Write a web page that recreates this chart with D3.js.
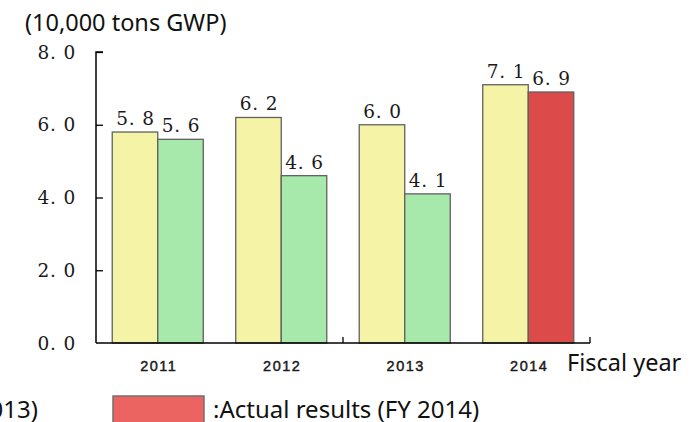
<!DOCTYPE html>
<html>
<head>
<meta charset="utf-8">
<script src="https://cdn.jsdelivr.net/npm/d3@7"></script>
<style>
  html, body { margin: 0; padding: 0; background: #fff; overflow: hidden; }
  svg { display: block; }
</style>
</head>
<body>
<svg id="chart" width="693" height="422"></svg>
<script>
// ---- data ----
const years = ["2011", "2012", "2013", "2014"];
const targetValues = [5.8, 6.2, 6.0, 7.1];
const actualValues = [5.6, 4.6, 4.1, 6.9];
const yTickValues = [0, 2, 4, 6, 8];
const unitLabel = "(10,000 tons GWP)";
const xAxisTitle = "Fiscal year";
const legendLabels = [":Actual results (FY 2011-2013)", ":Actual results (FY 2014)"];

// ---- setup ----
const svg = d3.select("#chart");
const x0 = 96, x1 = 590, yBottom = 343, yTop = 52;
const serif = "DejaVu Serif";
const sans = "Noto Sans";

const x = d3.scaleBand().domain(years).range([x0, x1]).paddingInner(0.263).paddingOuter(0.1315);
const xs = d3.scaleBand().domain(["target", "actual"]).range([0, x.bandwidth()]);
const y = d3.scaleLinear().domain([0, 8]).range([yBottom, yTop]);

const colors = { target: "#f5f3a6", actualPast: "#a6e9aa", actualNow: "#dc4a4a" };
const fmt = v => { const s = v.toFixed(1).split("."); return s[0] + ". " + s[1]; };

const rows = years.map((yr, i) => ({ yr, i, target: targetValues[i], actual: actualValues[i] }));

function numText(sel) {
  return sel.style("font-family", serif).style("font-size", "18.5px").attr("letter-spacing", 0.8)
    .attr("fill", "#1a1a1a");
}

// bars
const g = svg.append("g");
rows.forEach(r => {
  [["target", r.target, colors.target], ["actual", r.actual, r.i === years.length - 1 ? colors.actualNow : colors.actualPast]].forEach(([k, v, c]) => {
    const bx = x(r.yr) + xs(k);
    g.append("rect")
      .attr("x", bx).attr("y", y(v))
      .attr("width", xs.bandwidth()).attr("height", y(0) - y(v))
      .attr("fill", c).attr("stroke", "#606060").attr("stroke-width", 1.3);
    g.append("text")
      .attr("x", bx + xs.bandwidth() / 2 + 0.5).attr("y", y(v) - 7)
      .attr("text-anchor", "middle")
      .call(numText)
      .text(fmt(v));
  });
});

// y axis
const yAxis = d3.axisRight(y).tickValues(yTickValues).tickSize(7).tickFormat("");
const ya = svg.append("g").attr("transform", `translate(${x0},0)`).call(yAxis);
ya.select(".domain").attr("d", `M7,${yTop}H0V${yBottom}`).attr("stroke", "#000").attr("stroke-width", 1.5);
ya.selectAll(".tick line").attr("stroke", "#000").attr("stroke-width", 1.3);
ya.selectAll(".tick").filter(d => d === 0).select("line").remove();
yTickValues.forEach(v => {
  svg.append("text")
    .attr("x", 76).attr("y", y(v) + 6.5)
    .attr("text-anchor", "end")
    .call(numText)
    .text(fmt(v));
});

// x axis
svg.append("line").attr("x1", x0).attr("x2", x1).attr("y1", yBottom).attr("y2", yBottom)
  .attr("stroke", "#000").attr("stroke-width", 1.5);
const sepTicks = [years[1], years[3]];
sepTicks.forEach(yr => {
  const tx = x(yr) + x.bandwidth() + x.step() * x.paddingInner() / 2;
  svg.append("line").attr("x1", tx).attr("x2", tx).attr("y1", yBottom).attr("y2", yBottom - 6)
    .attr("stroke", "#000").attr("stroke-width", 1.3);
});
years.forEach(yr => {
  svg.append("text")
    .attr("x", x(yr) + x.bandwidth() / 2 + 1).attr("y", 371)
    .attr("text-anchor", "middle")
    .style("font-family", "Liberation Sans").style("font-size", "14.5px")
    .attr("letter-spacing", 1.5)
    .attr("fill", "#1a1a1a").attr("stroke", "#1a1a1a").attr("stroke-width", 0.45)
    .text(yr);
});

// titles
svg.append("text").attr("x", 25).attr("y", 31)
  .style("font-family", sans).style("font-size", "23.5px").attr("fill", "#111").text(unitLabel);
svg.append("text").attr("x", 567).attr("y", 371)
  .style("font-family", sans).style("font-size", "23.5px").attr("fill", "#111").text(xAxisTitle);

// legend
svg.append("rect").attr("x", -120).attr("y", 396).attr("width", 91).attr("height", 40)
  .attr("fill", colors.actualPast).attr("stroke", "#707070").attr("stroke-width", 1.5);
svg.append("text").attr("x", 38).attr("y", 418).attr("text-anchor", "end")
  .style("font-family", sans).style("font-size", "24px").attr("fill", "#111").text(legendLabels[0]);
svg.append("rect").attr("x", 113).attr("y", 396).attr("width", 91).attr("height", 40)
  .attr("fill", "#ec6461").attr("stroke", "#707070").attr("stroke-width", 1.5);
svg.append("text").attr("x", 213).attr("y", 418)
  .style("font-family", sans).style("font-size", "24px").attr("fill", "#111").text(legendLabels[1]);
</script>
</body>
</html>
